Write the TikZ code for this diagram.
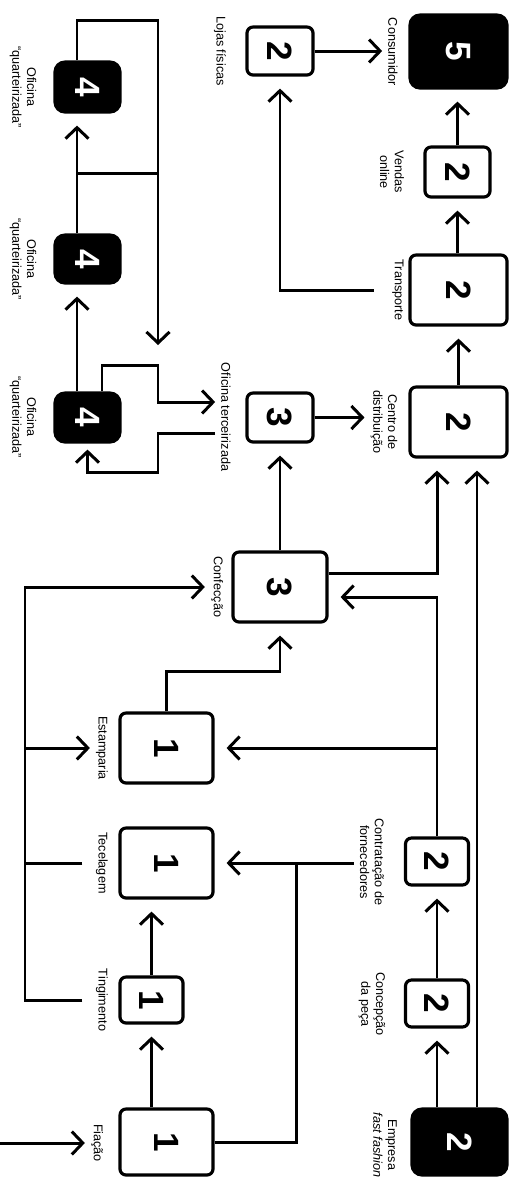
\documentclass[tikz,border=0pt]{standalone}
\usepackage{fontspec}
\setmainfont{Liberation Sans}
\usetikzlibrary{arrows.meta,calc}

\begin{document}
\begin{tikzpicture}[x=0.02cm,y=-0.02cm,
  box/.style={draw,line width=1.8pt,rounded corners=1.2mm,inner sep=0pt,font=\fontsize{20}{20}\selectfont\bfseries},
  dark/.style={box,fill=black,text=white,rounded corners=2mm},
  lbl/.style={rotate=-90,align=center,font=\fontsize{7.2}{8.4}\selectfont},
  wire/.style={line width=1.7pt},
  link/.style={wire,-{Straight Barb[length=2.2mm,width=4.6mm]}},
  gap/.style={shorten >=2.4mm}]
\useasboundingbox (0,0) rectangle (522,1178);

\node[dark,minimum width=1.94cm,minimum height=1.46cm] (cons) at (458.5,51.5) {\rotatebox{-90}{5}};
\node[box,minimum width=1.32cm,minimum height=0.96cm] (lojas) at (280,51) {\rotatebox{-90}{2}};
\node[box,minimum width=1.3cm,minimum height=1cm] (vendas) at (457.5,172) {\rotatebox{-90}{2}};
\node[box,minimum width=1.94cm,minimum height=1.4cm] (transp) at (458.5,290) {\rotatebox{-90}{2}};
\node[dark,minimum width=1.3cm,minimum height=1cm] (ofq1) at (87.5,87) {\rotatebox{-90}{4}};
\node[dark,minimum width=1.3cm,minimum height=0.96cm] (ofq2) at (87.5,259) {\rotatebox{-90}{4}};
\node[dark,minimum width=1.3cm,minimum height=0.98cm] (ofq3) at (87.5,417.5) {\rotatebox{-90}{4}};
\node[box,minimum width=1.32cm,minimum height=0.98cm] (ofter) at (280,417.5) {\rotatebox{-90}{3}};
\node[box,minimum width=1.94cm,minimum height=1.4cm] (centro) at (458.5,422) {\rotatebox{-90}{2}};
\node[box,minimum width=1.88cm,minimum height=1.4cm] (conf) at (280,587) {\rotatebox{-90}{3}};
\node[box,minimum width=1.86cm,minimum height=1.4cm] (estamp) at (166.5,748) {\rotatebox{-90}{1}};
\node[box,minimum width=1.86cm,minimum height=1.4cm] (tecel) at (166.5,863) {\rotatebox{-90}{1}};
\node[box,minimum width=1.26cm,minimum height=0.94cm] (contr) at (437,861.5) {\rotatebox{-90}{2}};
\node[box,minimum width=1.26cm,minimum height=0.92cm] (ting) at (151.5,1000) {\rotatebox{-90}{1}};
\node[box,minimum width=1.26cm,minimum height=0.94cm] (concep) at (437,1003.5) {\rotatebox{-90}{2}};
\node[box,minimum width=1.86cm,minimum height=1.32cm] (fiacao) at (166.5,1142) {\rotatebox{-90}{1}};
\node[dark,minimum width=1.9cm,minimum height=1.32cm] (empresa) at (459.5,1142) {\rotatebox{-90}{2}};

\node[lbl] (lcons) at (393,52) {Consumidor};
\node[lbl] (llojas) at (220,51) {Lojas físicas};
\node[lbl] (lvendas) at (392,172) {Vendas\\online};
\node[lbl] (ltransp) at (398,290) {Transporte};
\node[lbl] (lofq1) at (23,87) {Oficina\\“quarteirizada”};
\node[lbl] (lofq2) at (23,259) {Oficina\\“quarteirizada”};
\node[lbl] (lofq3) at (23,417) {Oficina\\“quarteirizada”};
\node[lbl] (lofter) at (226,417) {Oficina terceirizada};
\node[lbl] (lcentro) at (384,422) {Centro de\\distribuição};
\node[lbl] (lconf) at (217,587) {Confecção};
\node[lbl] (lestamp) at (102,748) {Estamparia};
\node[lbl] (ltecel) at (102,863) {Tecelagem};
\node[lbl] (lcontr) at (372,862) {Contratação de\\fornecedores};
\node[lbl] (lting) at (102,1000) {Tingimento};
\node[lbl] (lconcep) at (372,1004) {Concepção\\da peça};
\node[lbl] (lfiacao) at (97,1143) {Fiação};
\node[lbl] (lempresa) at (385,1145) {Empresa\\\textit{fast fashion}};

\coordinate (col) at (25,0);
\coordinate (borda) at (0,1143);
\coordinate (ida) at (158,365);
\coordinate (volta) at (158,472);
\coordinate (retorno) at (158,345);
\coordinate (meio) at ($(ofq1.south)!.5!(ofq2.north)$);

\draw[link] (lojas.east) -- (lojas.east -| lcons.south);
\draw[link,gap] (vendas.north) -- (vendas.north |- cons.south);
\draw[link,gap] (transp.north -| vendas) -- (vendas.south);
\draw[link,gap,shorten <=2.5mm] (ltransp.south) -| (lojas.south);
\draw[link,gap] (centro.north) -- (transp.south);
\draw[link] (ofter.east) -- (ofter.east -| lcentro.south);
\draw[link,gap] (conf.north) -- (ofter.south);
\draw[link,gap] ([yshift=2.8mm]conf.east) -| ([xshift=-4.3mm]centro.south);
\draw[link,gap] ([xshift=3.5mm]empresa.north) -- ([xshift=3.5mm]empresa.north |- centro.south);
\draw[link,gap] (contr.north) |- ([yshift=-2mm]conf.east);
\draw[link,gap] (contr.north |- estamp.east) -- (estamp.east);
\draw[link,gap] (lcontr.south |- tecel.east) -- (tecel.east);
\draw[wire] (fiacao.east) -| ([xshift=16.4mm]tecel.east);
\draw[link,gap] (concep.north) -- (contr.south);
\draw[link,gap] (empresa.north -| concep) -- (concep.south);
\draw[link,gap] (estamp.north) -- ++(0,-40) -| (conf.south);
\draw[link,gap] (ting.north) -- (ting.north |- tecel.south);
\draw[link,gap] (ting.south |- fiacao.north) -- (ting.south);
\draw[link] (borda) -- (borda -| lfiacao.south);

\draw[link,shorten <=1.5mm] (lting.south) -| (col |- lconf.south) -- (lconf.south);
\draw[wire,shorten <=1.5mm] (ltecel.south) -- (col |- ltecel.south);
\draw[link] (col |- lestamp.south) -- (lestamp.south);

\draw[link,gap] ([xshift=-2.1mm]ofq3.north) -- ([xshift=-2.1mm]ofq2.south);
\draw[link,gap] ([xshift=-2.1mm]ofq2.north) -- ([xshift=-2.1mm]ofq1.south);
\draw[link] ([xshift=-2.1mm]ofq1.north) -- ++(0,-40) -| (retorno);
\draw[wire] ([xshift=-2.1mm]meio) -- (meio -| retorno);
\draw[link] ([xshift=2.9mm]ofq3.north) |- (ida) |- ([yshift=3mm]lofter.south);
\draw[link,shorten >=1.2mm] ([yshift=-3.2mm]lofter.south) -| (volta) -| (ofq3.south);
\end{tikzpicture}
\end{document}
